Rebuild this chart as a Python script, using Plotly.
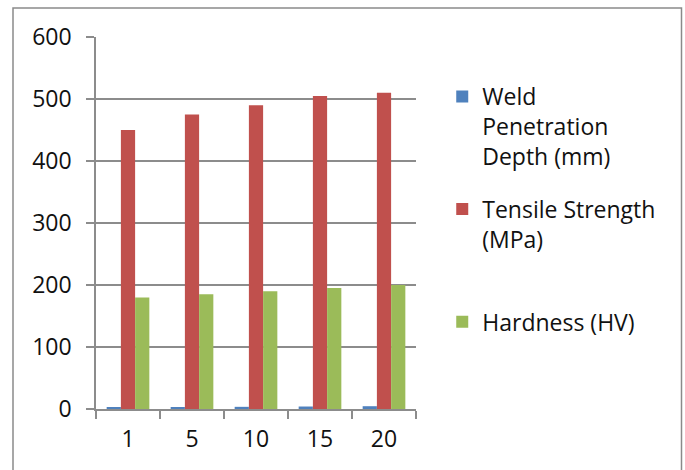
import plotly.graph_objects as go

# Welding trial data
categories = ["1", "5", "10", "15", "20"]
penetration_mm = [2.5, 3.0, 3.5, 4.0, 4.5]
tensile_mpa = [450, 475, 490, 505, 510]
hardness_hv = [180, 185, 190, 195, 200]

series_names = [
    "Weld<br>Penetration<br>Depth (mm)",
    "Tensile Strength<br>(MPa)<br>&nbsp;",
    "Hardness (HV)",
]
series_values = [penetration_mm, tensile_mpa, hardness_hv]
series_colors = ["#4F81BD", "#C0504D", "#9BBB59"]

y_ticks = [0, 100, 200, 300, 400, 500, 600]

FONT = "Open Sans"
GRID = "#8C8C8C"

fig = go.Figure()
for i, (name, vals, col) in enumerate(zip(series_names, series_values, series_colors)):
    fig.add_trace(go.Bar(
        x=categories, y=vals, name=name,
        marker=dict(color=col, line=dict(width=0)),
        legendgroup=f"g{i}",
    ))

fig.update_layout(
    width=685, height=470,
    margin=dict(l=96, r=269, t=37, b=61),
    paper_bgcolor="white", plot_bgcolor="white",
    barmode="group", bargap=0.333, bargroupgap=0,
    font=dict(family=FONT, size=23, color="#111111"),
    showlegend=True,
    legend=dict(
        x=1.082, y=0.898, xanchor="left", yanchor="top",
        valign="top", tracegroupgap=20,
        font=dict(family=FONT, size=23, color="#111111"),
        bgcolor="rgba(0,0,0,0)",
    ),
    xaxis=dict(
        type="category", showgrid=False,
        showline=True, linecolor=GRID, linewidth=1.5,
        ticks="outside", tickson="boundaries", ticklen=8,
        tickcolor=GRID, tickwidth=1.5, ticklabelstandoff=9,
    ),
    yaxis=dict(
        range=[0, 600], tickvals=y_ticks,
        showgrid=True, gridcolor=GRID, gridwidth=1.5,
        showline=True, linecolor=GRID, linewidth=1.5,
        ticks="outside", ticklen=8, tickcolor=GRID, tickwidth=1.5,
        ticklabelstandoff=10, zeroline=False,
    ),
    shapes=[dict(
        type="rect", xref="paper", yref="paper",
        x0=(13 - 96) / 320, x1=(681.5 - 96) / 320,
        y0=-0.3, y1=(409 - 8) / 372,
        line=dict(color="#8A8A8A", width=1.5), fillcolor="rgba(0,0,0,0)",
        layer="below",
    )],
)

fig.write_html("out.html")
